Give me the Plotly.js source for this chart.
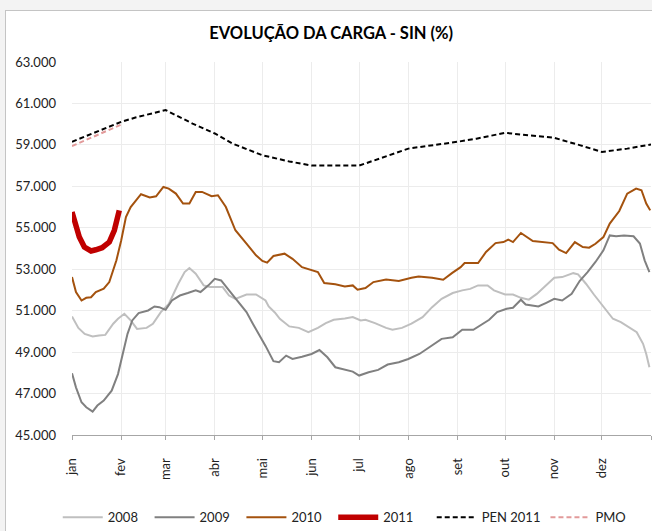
<!DOCTYPE html>
<html>
<head>
<meta charset="utf-8">
<script src="https://cdn.plot.ly/plotly-3.0.1.min.js"></script>
<style>
  html, body { margin: 0; padding: 0; background: #ffffff; }
  #wrap { position: relative; width: 652px; height: 531px; overflow: hidden; }
  #chart { position: absolute; left: 0; top: 0; width: 652px; height: 531px; }
  .strip { position: absolute; background: #f3f3f3; pointer-events: none; }
  #frame { position: absolute; left: 5px; top: 10px; width: 660px; height: 540px;
           border-left: 1px solid #c4c4c4; border-top: 1px solid #c4c4c4; pointer-events: none; }
</style>
</head>
<body>
<div id="wrap">
  <div id="chart"></div>
  <div class="strip" style="left:0;top:0;width:652px;height:10px;"></div>
  <div class="strip" style="left:0;top:0;width:5px;height:531px;"></div>
  <div id="frame"></div>
</div>
<script>
// Month ticks (day of year at month start) and labels
const monthStarts = [0, 31, 59, 90, 120, 151, 181, 212, 243, 273, 304, 334, 365];
const monthLabels = ["jan", "fev", "mar", "abr", "mai", "jun", "jul", "ago", "set", "out", "nov", "dez", ""];

// Series names (legend)
const seriesNames = ["2008", "2009", "2010", "2011", "PEN 2011", "PMO"];

// 2008
const days2008 = [0, 4, 8, 13, 17, 21, 26, 29, 33, 37, 41, 47, 51, 56, 61, 67, 71, 74, 78, 83, 87, 95, 99, 103, 110, 116, 122, 124, 128, 131, 137, 143, 149, 155, 160, 165, 172, 177, 182, 185, 191, 198, 202, 208, 214, 221, 227, 233, 240, 246, 251, 256, 262, 266, 273, 278, 283, 288, 293, 299, 304, 309, 316, 319, 324, 329, 335, 341, 346, 351, 356, 360, 362, 364];
const load2008 = [50720, 50170, 49880, 49750, 49800, 49830, 50370, 50610, 50850, 50530, 50120, 50170, 50370, 50930, 51330, 52300, 52860, 53060, 52780, 52220, 52140, 52140, 51730, 51570, 51780, 51780, 51490, 51200, 50900, 50610, 50240, 50170, 49960, 50170, 50400, 50560, 50620, 50690, 50530, 50560, 50400, 50170, 50080, 50170, 50370, 50690, 51170, 51570, 51850, 51980, 52050, 52220, 52220, 51980, 51780, 51780, 51620, 51530, 51810, 52220, 52590, 52620, 52810, 52750, 52300, 51780, 51170, 50610, 50450, 50200, 49960, 49400, 48910, 48270];

// 2009
const days2009 = [0, 2.5, 6, 9, 13, 16, 20, 25, 29, 32, 35, 38, 42, 48, 52, 55, 59, 63, 68, 73, 78, 81, 86, 90, 94, 99, 106, 110, 114, 118, 122, 127, 130.5, 135, 139, 145, 151, 156, 161, 166, 172, 177, 181, 187, 193, 199, 206, 212, 219, 225, 233, 240, 246, 253, 259, 263, 268, 274, 278, 283, 286, 294, 299, 304, 309, 315, 320, 325, 330, 335, 339, 343, 348, 354, 358, 361, 364];
const load2009 = [47980, 47300, 46580, 46340, 46130, 46420, 46660, 47140, 47940, 48910, 49880, 50530, 50880, 51010, 51200, 51170, 51040, 51490, 51730, 51850, 51980, 51900, 52220, 52540, 52460, 51980, 51330, 50930, 50370, 49850, 49300, 48560, 48510, 48830, 48670, 48780, 48910, 49100, 48750, 48270, 48140, 48060, 47870, 48030, 48140, 48400, 48510, 48670, 48910, 49240, 49640, 49720, 50080, 50080, 50370, 50560, 50930, 51090, 51140, 51530, 51300, 51200, 51380, 51570, 51490, 51810, 52430, 52860, 53350, 53910, 54630, 54590, 54630, 54590, 54240, 53430, 52860];

// 2010
const days2010 = [0, 2.5, 6, 9, 12, 15, 20, 23.5, 28, 31, 34, 37, 43.5, 49, 53, 57.6, 61, 65.5, 70, 74, 78, 82, 88, 92, 97, 103, 110, 116, 120, 123, 127, 134, 139, 145, 155, 159, 166, 172, 177, 180, 185, 190, 198, 206, 214, 218.5, 227, 234, 239.5, 245, 247.5, 256, 261, 267, 272, 275, 278, 283, 290.5, 299, 303, 307, 311.5, 317, 322, 326, 330, 335, 339, 345, 350, 355.6, 359, 362, 364.5];
const load2010 = [52620, 51900, 51490, 51620, 51650, 51900, 52060, 52380, 53430, 54390, 55520, 56000, 56620, 56460, 56520, 56970, 56890, 56650, 56170, 56170, 56730, 56730, 56520, 56570, 56000, 54880, 54240, 53670, 53400, 53320, 53640, 53750, 53500, 53100, 52860, 52330, 52270, 52170, 52220, 52010, 52090, 52380, 52500, 52430, 52590, 52650, 52590, 52490, 52810, 53100, 53300, 53300, 53830, 54260, 54310, 54430, 54310, 54750, 54360, 54310, 54260, 53940, 53780, 54310, 54070, 54040, 54230, 54550, 55200, 55810, 56650, 56890, 56810, 56170, 55840];

// 2011
const days2011 = [0, 1.5, 2.5, 4.6, 7.8, 12, 15, 19, 23.5, 26.7, 29.8];
const load2011 = [55760, 55400, 55120, 54550, 54070, 53880, 53940, 54040, 54310, 54880, 55840];

// PEN 2011
const daysPEN = [0, 31, 40, 59, 76, 90, 101, 120, 137, 151, 181, 212, 243, 255, 273, 287, 304, 320, 334, 350, 365];
const loadPEN = [59150, 60110, 60320, 60680, 60030, 59550, 59070, 58500, 58200, 58000, 58000, 58820, 59150, 59300, 59580, 59470, 59340, 58990, 58660, 58820, 59020];

// PMO
const daysPMO = [0, 31];
const loadPMO = [58940, 59980];

const FONT = "Lato, 'Open Sans', 'Liberation Sans', sans-serif";
const NB = "\u00a0";

function line(name, pad, x, y, color, width, dash) {
  return {
    type: "scatter", mode: "lines", name: name + NB.repeat(pad), x: x, y: y,
    line: { color: color, width: width, dash: dash || "solid", shape: "linear" },
    hoverinfo: "skip"
  };
}

const traces = [
  line(seriesNames[0], 2, days2008, load2008, "#bfbfbf", 2),
  line(seriesNames[1], 2, days2009, load2009, "#808080", 2),
  line(seriesNames[2], 2, days2010, load2010, "#a4520e", 2),
  line(seriesNames[3], 4, days2011, load2011, "#c00000", 5.5),
  line(seriesNames[4], 0, daysPEN, loadPEN, "#000000", 2, "5px,3px"),
  line(seriesNames[5], 0, daysPMO, loadPMO, "#e29a9a", 2, "5px,3px")
];

const layout = {
  width: 652, height: 531,
  margin: { l: 72, r: 1, t: 62, b: 96 },
  paper_bgcolor: "#ffffff", plot_bgcolor: "#ffffff",
  separators: ",.",
  font: { family: FONT, size: 13, color: "#222222" },
  title: {
    text: "EVOLUÇÃO DA CARGA - SIN (%)",
    font: { family: FONT, size: 16.5, color: "#000000", weight: "bold" },
    xref: "container", x: 0.508, xanchor: "center",
    yref: "container", y: 0.938, yanchor: "middle"
  },
  xaxis: {
    range: [0, 365], tickvals: monthStarts, ticktext: monthLabels,
    tickangle: -90, ticks: "outside", ticklen: 4, tickcolor: "#a6a6a6",
    showline: true, linecolor: "#a6a6a6", linewidth: 1,
    showgrid: true, gridcolor: "#ececec", gridwidth: 1, zeroline: false,
    tickfont: { family: FONT, size: 13, color: "#222222" },
    ticklabelstandoff: 13, fixedrange: true
  },
  yaxis: {
    range: [45000, 63000], dtick: 2000, tick0: 45000, tickformat: ",.0f",
    showgrid: true, gridcolor: "#ececec", gridwidth: 1, zeroline: false,
    showline: false, ticks: "",
    tickfont: { family: FONT, size: 13, color: "#222222" },
    ticklabelstandoff: 15, fixedrange: true
  },
  showlegend: true,
  legend: {
    orientation: "h",
    xref: "container", x: 0.528, xanchor: "center",
    yref: "container", y: 0.026, yanchor: "middle",
    font: { family: FONT, size: 13, color: "#222222" },
    itemwidth: 40,
    bgcolor: "rgba(0,0,0,0)", traceorder: "normal"
  }
};

Plotly.newPlot("chart", traces, layout, { displayModeBar: false, staticPlot: true });
</script>
</body>
</html>
